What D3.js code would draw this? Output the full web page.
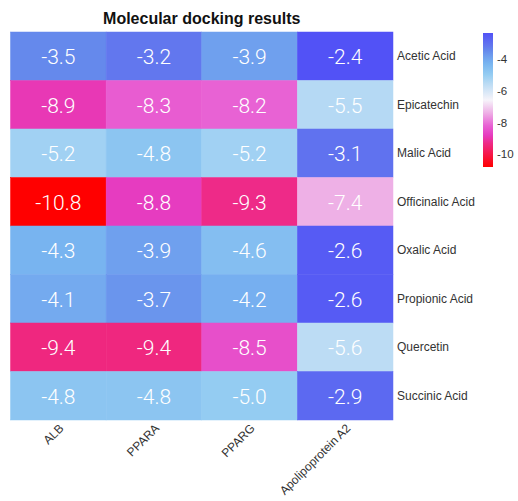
<!DOCTYPE html>
<html>
<head>
<meta charset="utf-8">
<script src="https://cdn.jsdelivr.net/npm/d3@7"></script>
<style>
  html, body { margin: 0; padding: 0; background: #fff; }
  svg { display: block; }
</style>
</head>
<body>
<svg id="chart" width="518" height="501"></svg>
<script>
// Docking scores (kcal/mol), one array per target protein
const compounds = ["Acetic Acid", "Epicatechin", "Malic Acid", "Officinalic Acid",
                   "Oxalic Acid", "Propionic Acid", "Quercetin", "Succinic Acid"];
const targets = ["ALB", "PPARA", "PPARG", "Apolipoprotein A2"];
const ALB   = [-3.5, -8.9, -5.2, -10.8, -4.3, -4.1, -9.4, -4.8];
const PPARA = [-3.2, -8.3, -4.8, -8.8, -3.9, -3.7, -9.4, -4.8];
const PPARG = [-3.9, -8.2, -5.2, -9.3, -4.6, -4.2, -8.5, -5.0];
const APOA2 = [-2.4, -5.5, -3.1, -7.4, -2.6, -2.6, -5.6, -2.9];
const legendTicks = [-4, -6, -8, -10];

// Colour ramp stops: red (strong binding) -> magenta -> white -> sky blue -> blue
const rampValues = [-10.8, -9.3, -8.8, -8.2, -7.4, -6.6, -5.6, -5.0, -4.3, -3.9, -3.5, -3.2, -2.4];
const rampColors = ["#ff0000", "#ee2a88", "#e63cc0", "#e862d4", "#eeb0e6", "#f6f4fa",
                    "#bcdcf4", "#94ccf2", "#78b4f0", "#6fa0ee", "#6589ec", "#6277ee", "#5252f6"];

const series = [ALB, PPARA, PPARG, APOA2];
const cells = [];
targets.forEach((t, j) => {
  compounds.forEach((c, i) => cells.push({ target: t, compound: c, value: series[j][i] }));
});

const svg = d3.select("#chart");
const grid = { left: 10.5, top: 32, right: 393, bottom: 420 };

const x = d3.scaleBand().domain(targets).range([grid.left, grid.right]).padding(0);
const y = d3.scaleBand().domain(compounds).range([grid.top, grid.bottom]).padding(0);
const color = d3.scaleLinear().domain(rampValues).range(rampColors).interpolate(d3.interpolateRgb).clamp(true);

// Heatmap tiles
svg.append("g").selectAll("rect")
  .data(cells)
  .join("rect")
  .attr("x", d => x(d.target))
  .attr("y", d => y(d.compound))
  .attr("width", x.bandwidth())
  .attr("height", y.bandwidth())
  .attr("fill", d => color(d.value))
  .attr("stroke", d => color(d.value))
  .attr("stroke-width", 0.5);

// Value labels
svg.append("g").selectAll("text")
  .data(cells)
  .join("text")
  .attr("x", d => x(d.target) + x.bandwidth() / 2)
  .attr("y", d => y(d.compound) + y.bandwidth() / 2)
  .attr("dy", "0.38em")
  .attr("text-anchor", "middle")
  .attr("fill", "#ffffff")
  .attr("font-family", "Roboto, 'Noto Sans', sans-serif")
  .attr("font-weight", 300)
  .attr("font-size", 21)
  .text(d => d3.format(".1f")(d.value).replace("−", "-"));

// Title
svg.append("text")
  .attr("x", (grid.left + grid.right) / 2)
  .attr("y", 24)
  .attr("text-anchor", "middle")
  .attr("font-family", "'Liberation Sans', Arial, sans-serif")
  .attr("font-weight", "bold")
  .attr("font-size", 16)
  .attr("fill", "#111")
  .text("Molecular docking results");

// Row labels (right side)
const yAxis = d3.axisRight(y).tickSize(0).tickPadding(4);
svg.append("g")
  .attr("transform", `translate(${grid.right},0)`)
  .call(yAxis)
  .call(g => g.select(".domain").remove())
  .call(g => g.selectAll("text")
    .attr("font-family", "'Liberation Sans', Arial, sans-serif")
    .attr("font-size", 12)
    .attr("fill", "#333"));

// Column labels (bottom, rotated)
const xAxis = d3.axisBottom(x).tickSize(0).tickPadding(0);
svg.append("g")
  .attr("transform", `translate(0,${grid.bottom})`)
  .call(xAxis)
  .call(g => g.select(".domain").remove())
  .call(g => g.selectAll("text")
    .attr("font-family", "'Liberation Sans', Arial, sans-serif")
    .attr("font-size", 12)
    .attr("fill", "#333")
    .attr("text-anchor", "end")
    .attr("y", 0)
    .attr("dy", 0)
    .attr("transform", "translate(6,9) rotate(-45)"));

// Colour bar legend
const legend = { x: 483, width: 10, top: 33, bottom: 167 };
const legendScale = d3.scaleLinear()
  .domain([d3.max(rampValues), d3.min(rampValues)])
  .range([legend.top, legend.bottom]);

const defs = svg.append("defs");
const grad = defs.append("linearGradient")
  .attr("id", "legend-grad")
  .attr("x1", 0).attr("y1", 0).attr("x2", 0).attr("y2", 1);
const [vmax, vmin] = legendScale.domain();
// Stops must run top (least negative) to bottom
rampValues.map((v, i) => ({ v, c: rampColors[i] }))
  .sort((a, b) => b.v - a.v)
  .forEach(s => {
    grad.append("stop")
      .attr("offset", (vmax - s.v) / (vmax - vmin))
      .attr("stop-color", s.c);
  });

svg.append("rect")
  .attr("x", legend.x)
  .attr("y", legend.top)
  .attr("width", legend.width)
  .attr("height", legend.bottom - legend.top)
  .attr("fill", "url(#legend-grad)");

const legendAxis = d3.axisRight(legendScale)
  .tickValues(legendTicks)
  .tickSize(0)
  .tickPadding(4)
  .tickFormat(d => String(d));
svg.append("g")
  .attr("transform", `translate(${legend.x + legend.width},0)`)
  .call(legendAxis)
  .call(g => g.select(".domain").remove())
  .call(g => g.selectAll("text")
    .attr("font-family", "'Liberation Sans', Arial, sans-serif")
    .attr("font-size", 11.5)
    .attr("fill", "#333"));
</script>
</body>
</html>
